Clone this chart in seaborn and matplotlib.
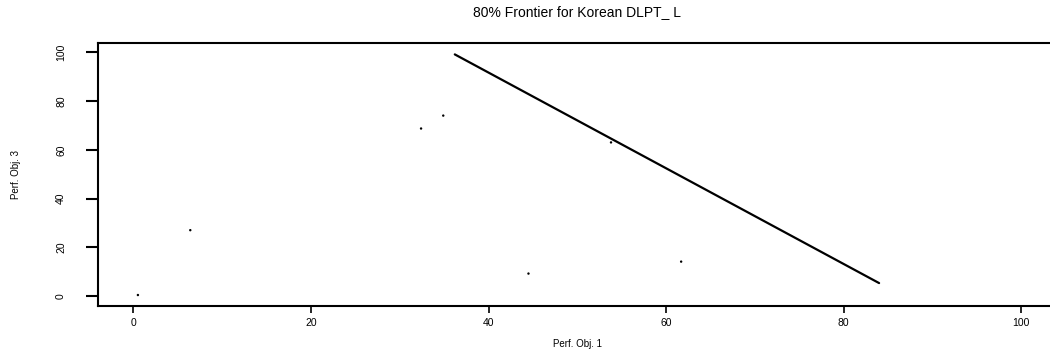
import matplotlib
matplotlib.use("Agg")
import matplotlib.pyplot as plt
import seaborn as sns
import pandas as pd

# frontier line (Perf. Obj. 1 vs Perf. Obj. 3)
frontier_obj1 = [36.2, 84.0]
frontier_obj3 = [99.2, 5.4]

# scattered observations
points_obj1 = [0.5, 6.4, 32.4, 34.9, 53.8, 44.5, 61.7]
points_obj3 = [0.5, 27.1, 68.8, 74.1, 63.1, 9.3, 14.2]

x_ticks = [0, 20, 40, 60, 80, 100]
y_ticks = [0, 20, 40, 60, 80, 100]

title = "80% Frontier for Korean DLPT_ L"
x_label = "Perf. Obj. 1"
y_label = "Perf. Obj. 3"

sns.set_style("ticks", {"text.color": "black", "axes.labelcolor": "black",
                        "xtick.color": "black", "ytick.color": "black"})
plt.rcParams['font.family'] = ['Liberation Sans', 'DejaVu Sans']

line_df = pd.DataFrame({"obj1": frontier_obj1, "obj3": frontier_obj3})
pts_df = pd.DataFrame({"obj1": points_obj1, "obj3": points_obj3})

fig = plt.figure(figsize=(10.5, 3.52), dpi=100)
ax = fig.add_axes([0.0933, 0.1307, 0.913, 0.748])

sns.lineplot(data=line_df, x="obj1", y="obj3", color="black", linewidth=1.6,
             sort=False, ax=ax)
sns.scatterplot(data=pts_df, x="obj1", y="obj3", color="black", s=3,
                edgecolor="none", ax=ax)

ax.set_xlim(-4, 104)
ax.set_ylim(-4, 104)
ax.set_xticks(x_ticks)
ax.set_yticks(y_ticks)

for side in ["left", "bottom", "top", "right"]:
    ax.spines[side].set_visible(True)
    ax.spines[side].set_linewidth(1.5)
    ax.spines[side].set_color("black")

ax.tick_params(axis="x", direction="out", length=5, width=1.2, pad=4,
               labelsize=7.5, colors="black")
ax.tick_params(axis="y", direction="out", length=9, width=1.5, pad=14,
               labelsize=7.5, colors="black")
for lab in ax.get_yticklabels():
    lab.set_rotation(90)
    lab.set_va("center")

ax.set_xlabel(x_label, fontsize=7, color="black")
ax.set_ylabel(y_label, fontsize=7, color="black")
ax.xaxis.set_label_coords(0.5, -0.125)
ax.yaxis.set_label_coords(-0.08, 0.5)
ax.set_title(title, fontsize=10, pad=19, color="black")

fig.savefig("out.png", dpi=100)
